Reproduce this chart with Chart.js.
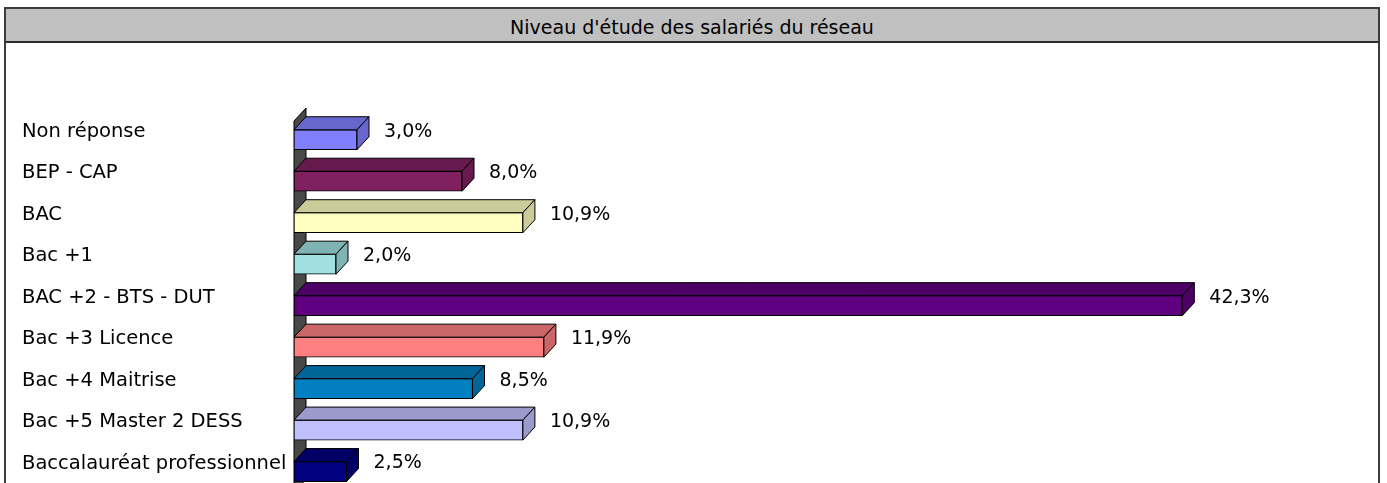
<!DOCTYPE html>
<html>
<head>
<meta charset="utf-8">
<script src="https://cdn.jsdelivr.net/npm/chart.js@4/dist/chart.umd.min.js"></script>
<style>
  body { margin: 0; background: #fff; overflow: hidden; width: 1387px; height: 483px; }
  .frame { position: absolute; left: 4px; top: 7px; width: 1372px; height: 520px; border: 2px solid #3c3c3c; }
  .title { height: 32px; background: #c0c0c0; border-bottom: 2px solid #2c2c2c; display: flex;
           align-items: center; justify-content: center; font: 19px "DejaVu Sans", sans-serif; color: #000; }
  .title span { position: relative; top: 2px; }
  #wrap { position: absolute; left: 0; top: 0; width: 1387px; height: 507px; }
</style>
</head>
<body>
<div class="frame"><div class="title"><span>Niveau d'étude des salariés du réseau</span></div></div>
<div id="wrap"><canvas id="chart"></canvas></div>
<script>
// --- DONNEES ---
const categories = ['Non réponse', 'BEP - CAP', 'BAC', 'Bac +1', 'BAC +2 - BTS - DUT',
    'Bac +3 Licence', 'Bac +4 Maitrise', 'Bac +5 Master 2 DESS', 'Baccalauréat professionnel'];
const values = [3.0, 8.0, 10.9, 2.0, 42.3, 11.9, 8.5, 10.9, 2.5];

// couleurs (face avant / faces dessus + côté)
const frontColors = ['#8080ff', '#802060', '#ffffc0', '#a0e0e0', '#600080', '#ff8080', '#0080c0', '#c0c0ff', '#000080'];
const shadeColors = ['#6666cc', '#661a4d', '#cccc9a', '#80b3b3', '#4d0066', '#cc6666', '#00669a', '#9a9acc', '#000066'];

const depthX = 12, depthY = 13;
const FONT = '"DejaVu Sans", sans-serif';

// --- effet 3D (mur + faces dessus/côté + étiquettes) ---
const bar3d = {
    id: 'bar3d',
    beforeDatasetsDraw(chart) {
        const { ctx, chartArea, scales: { x } } = chart;
        const x0 = x.getPixelForValue(0);
        ctx.save();
        ctx.beginPath();
        ctx.moveTo(x0, chartArea.top + 2);
        ctx.lineTo(x0 + depthX, chartArea.top + 2 - depthY);
        ctx.lineTo(x0 + depthX, chartArea.bottom - depthY);
        ctx.lineTo(x0, chartArea.bottom);
        ctx.closePath();
        ctx.fillStyle = '#484848';
        ctx.fill();
        ctx.strokeStyle = '#000';
        ctx.lineWidth = 1;
        ctx.stroke();
        ctx.restore();
    },
    afterDatasetsDraw(chart) {
        const { ctx } = chart;
        const meta = chart.getDatasetMeta(0);
        ctx.save();
        ctx.lineWidth = 1;
        ctx.strokeStyle = '#000';
        meta.data.forEach((bar, i) => {
            const x0 = bar.base, x1 = bar.x;
            const y0 = bar.y - bar.height / 2, y1 = bar.y + bar.height / 2;
            // dessus
            ctx.beginPath();
            ctx.moveTo(x0, y0);
            ctx.lineTo(x0 + depthX, y0 - depthY);
            ctx.lineTo(x1 + depthX, y0 - depthY);
            ctx.lineTo(x1, y0);
            ctx.closePath();
            ctx.fillStyle = shadeColors[i];
            ctx.fill();
            ctx.stroke();
            // côté
            ctx.beginPath();
            ctx.moveTo(x1, y0);
            ctx.lineTo(x1 + depthX, y0 - depthY);
            ctx.lineTo(x1 + depthX, y1 - depthY);
            ctx.lineTo(x1, y1);
            ctx.closePath();
            ctx.fill();
            ctx.stroke();
            // valeur
            ctx.fillStyle = '#000';
            ctx.font = '19px ' + FONT;
            ctx.textAlign = 'left';
            ctx.textBaseline = 'middle';
            ctx.fillText(values[i].toFixed(1).replace('.', ',') + '%', x1 + depthX + 15, bar.y - 8);
        });
        ctx.restore();
    }
};

const ctx = document.getElementById('chart').getContext('2d');
new Chart(ctx, {
    type: 'bar',
    data: {
        labels: categories,
        datasets: [{
            data: values,
            backgroundColor: frontColors,
            borderColor: '#000',
            borderWidth: 1,
            borderSkipped: false,
            barThickness: 20
        }]
    },
    options: {
        indexAxis: 'y',
        responsive: true,
        maintainAspectRatio: false,
        animation: false,
        layout: { padding: { left: 22, top: 119, bottom: 9, right: 43 } },
        plugins: { legend: { display: false }, tooltip: { enabled: false } },
        scales: {
            x: { display: false, min: 0, max: 50 },
            y: {
                grid: { display: false },
                border: { display: false },
                ticks: {
                    color: '#000',
                    font: { family: FONT, size: 19.5 },
                    crossAlign: 'far',
                    labelOffset: -8
                },
                afterFit(scale) { scale.width = 272; }
            }
        }
    },
    plugins: [bar3d]
});
</script>
</body>
</html>
